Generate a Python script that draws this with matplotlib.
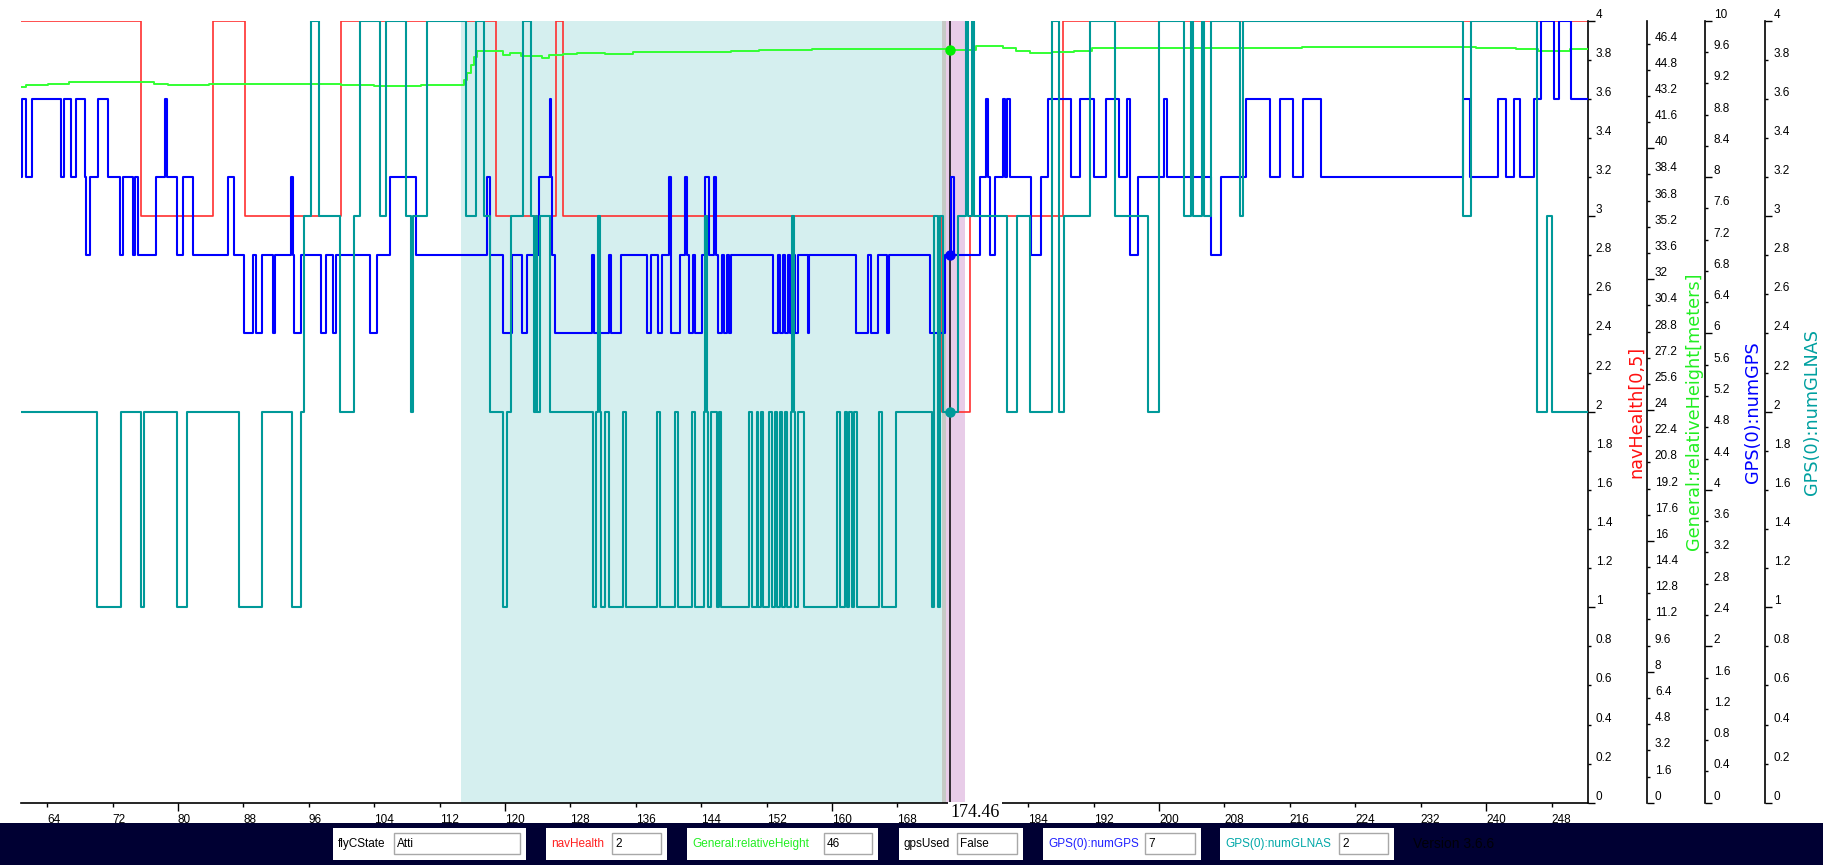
import matplotlib.pyplot as plt
from matplotlib.patches import Rectangle
from matplotlib.ticker import MultipleLocator, FormatStrFormatter, FuncFormatter

# time axis
t_start, t_end = 60.8, 252.4
cursor_t = 174.46

# navHealth (step series: time of change, value after change)
nav_t = [60.7, 75.5, 84.3, 88.24, 99.93, 118.9, 126.23, 127.09, 173.46, 176.85, 188.27]
nav_v = [4, 3, 4, 3, 4, 3, 4, 3, 2, 3, 4]

# General:relativeHeight [m]
hgt_t = [60.7, 61.43, 64.08, 66.73, 74.67, 77.12, 78.75, 83.84, 99.93, 104.0, 109.7,
         115.0, 115.4, 115.8, 116.2, 116.6, 119.8, 120.66, 121.94, 124.51, 125.37,
         127.09, 128.8, 132.23, 135.66, 143.37, 147.66, 151.09, 157.52, 163.95,
         170.38, 174.24, 177.63, 180.91, 182.54, 184.18, 186.9, 189.64, 191.82,
         206.55, 217.46, 238.74, 243.65, 246.37, 250.2]
hgt_v = [43.73, 43.87, 43.93, 44.07, 44.03, 43.93, 43.87, 43.93, 43.86, 43.79, 43.9,
         44.2, 44.6, 45.1, 45.6, 45.97, 45.7, 45.8, 45.64, 45.54, 45.7,
         45.75, 45.85, 45.77, 45.91, 45.87, 45.97, 46.01, 46.05, 46.09,
         46.08, 46.01, 46.27, 46.11, 45.97, 45.85, 45.91, 45.95, 46.11,
         46.15, 46.21, 46.11, 46.05, 45.97, 46.05]

# GPS(0):numGPS
gps_t = [60.7, 60.91, 61.43, 62.13, 65.71, 66.04, 66.93, 67.54, 68.64, 68.81,
         69.3, 70.19, 71.41, 72.96, 73.29, 74.47, 74.75, 75.08, 77.32, 78.46,
         78.62, 79.85, 80.66, 81.88, 86.08, 86.81, 88.03, 89.22, 89.54, 90.27,
         91.58, 91.86, 93.82, 94.1, 94.23, 95.04, 97.48, 98.1, 98.99, 99.32,
         103.47, 104.29, 105.92, 109.09, 117.85, 118.14, 119.8, 120.87, 122.07, 122.67,
         124.17, 125.46, 125.67, 125.8, 126.1, 130.6, 130.94, 132.66, 132.96, 134.24,
         137.37, 137.8, 138.66, 139.22, 140.03, 140.29, 141.45, 142.0, 142.3, 142.52,
         142.95, 143.25, 144.06, 144.4, 144.92, 145.6, 145.86, 146.03, 146.5, 146.8,
         147.1, 147.4, 147.66, 152.72, 153.36, 153.66, 154.0, 154.2, 154.6, 154.8,
         155.3, 155.5, 155.8, 157.0, 157.18, 162.88, 164.38, 164.81, 165.58, 166.73,
         166.95, 172.01, 173.81, 174.6, 174.9, 178.07, 178.89, 179.1, 179.27, 179.98,
         180.91, 181.2, 181.4, 181.73, 184.34, 185.54, 186.36, 189.25, 190.35, 191.98,
         193.46, 195.09, 196.07, 196.46, 197.44, 200.55, 200.93, 206.38, 207.53, 210.64,
         213.53, 214.84, 216.37, 217.62, 219.81, 237.21, 238.08, 241.46, 242.39, 243.37,
         244.19, 245.83, 246.76, 248.34, 248.94, 250.36]
gps_v = [8, 9, 8, 9, 8, 9, 8, 9, 8, 7,
         8, 9, 8, 7, 8, 7, 8, 7, 8, 9,
         8, 7, 8, 7, 8, 7, 6, 7, 6, 7,
         6, 7, 8, 7, 6, 7, 6, 7, 6, 7,
         6, 7, 8, 7, 8, 7, 6, 7, 6, 7,
         8, 9, 8, 7, 6, 7, 6, 7, 6, 7,
         6, 7, 6, 7, 8, 6, 7, 8, 7, 6,
         7, 6, 7, 8, 7, 8, 7, 6, 7, 6,
         7, 6, 7, 6, 7, 6, 7, 6, 7, 6,
         7, 6, 7, 6, 7, 6, 7, 6, 7, 6,
         7, 6, 7, 8, 7, 8, 9, 8, 7, 8,
         9, 8, 9, 8, 7, 8, 9, 8, 9, 8,
         9, 8, 9, 7, 8, 9, 8, 7, 8, 9,
         8, 9, 8, 9, 8, 9, 8, 9, 8, 9,
         8, 9, 10, 9, 10, 9]

# GPS(0):numGLNAS
gln_t = [60.7, 70.12, 73.05, 75.47, 75.84, 79.87, 81.11, 87.41, 90.27, 93.93,
         95.03, 95.4, 96.26, 97.2, 99.87, 101.48, 102.25, 104.69, 105.43, 107.87,
         108.5, 108.8, 110.44, 115.28, 116.42, 117.44, 118.18, 119.8, 120.3, 120.75,
         122.24, 123.23, 123.53, 123.75, 123.97, 124.34, 125.51, 130.78, 131.1, 131.37,
         131.66, 131.8, 132.25, 132.76, 134.45, 134.81, 138.62, 138.92, 140.82, 141.19,
         142.87, 143.24, 144.34, 144.5, 144.7, 144.8, 145.21, 145.95, 146.17, 146.39,
         149.83, 150.2, 150.78, 150.95, 151.3, 151.5, 152.25, 152.61, 152.98, 153.3,
         153.6, 153.9, 154.22, 154.5, 154.96, 155.08, 155.3, 155.5, 155.84, 156.57,
         160.6, 160.97, 161.55, 161.8, 162.1, 162.5, 162.7, 163.02, 165.73, 166.09,
         167.78, 172.18, 172.45, 172.9, 173.2, 173.54, 175.45, 176.4, 176.65, 177.1,
         177.4, 181.45, 182.65, 184.2, 186.9, 187.7, 188.4, 191.55, 194.55, 198.64,
         200.0, 203.0, 203.9, 204.1, 205.2, 205.5, 206.3, 209.9, 210.3, 237.2,
         238.1, 246.2, 247.5, 248.0]
gln_v = [2, 1, 2, 1, 2, 1, 2, 1, 2, 1,
         2, 3, 4, 3, 2, 3, 4, 3, 4, 3,
         2, 3, 4, 3, 4, 3, 2, 1, 2, 3,
         4, 3, 2, 3, 2, 3, 2, 1, 2, 3,
         2, 1, 2, 1, 2, 1, 2, 1, 2, 1,
         2, 1, 2, 3, 2, 1, 2, 1, 2, 1,
         2, 1, 2, 1, 2, 1, 2, 1, 2, 1,
         2, 1, 2, 1, 2, 3, 2, 1, 2, 1,
         2, 1, 2, 1, 2, 1, 2, 1, 2, 1,
         2, 1, 3, 1, 3, 2, 3, 4, 3, 4,
         3, 2, 3, 2, 4, 2, 3, 4, 3, 2,
         4, 3, 4, 3, 4, 3, 4, 3, 4, 3,
         4, 2, 3, 2]

c_red = '#ff3030'
c_green = '#33ff33'
c_blue = '#0000ff'
c_teal = '#009999'

W, H = 1823, 865
fig = plt.figure(figsize=(W / 100, H / 100), dpi=100)
ax = fig.add_axes([21 / W, 62.3 / H, 1566.5 / W, 782 / H])
ax_h = ax.twinx()
ax_g = ax.twinx()
ax_l = ax.twinx()
ax_h.spines['right'].set_position(('axes', 1.0377))
ax_g.spines['right'].set_position(('axes', 1.0753))
ax_l.spines['right'].set_position(('axes', 1.1136))


def ext(t, v):
    return list(t) + [t_end], list(v) + [v[-1]]


def style_right(a, lo, hi, major, minor):
    a.set_ylim(lo, hi)
    a.yaxis.tick_right()
    a.yaxis.set_major_locator(MultipleLocator(major))
    a.yaxis.set_minor_locator(MultipleLocator(minor))
    a.yaxis.set_major_formatter(FormatStrFormatter('%g'))
    a.yaxis.set_minor_formatter(FormatStrFormatter('%g'))
    a.tick_params(axis='y', which='major', direction='out', length=5, width=1,
                  labelsize=8.5, pad=1, left=False, right=True,
                  labelleft=False, labelright=True)
    a.tick_params(axis='y', which='minor', direction='out', length=2.5, width=1,
                  labelsize=8.5, pad=3.5, left=False, right=True,
                  labelleft=False, labelright=True)
    for s in ['top', 'left', 'bottom']:
        a.spines[s].set_visible(False)
    a.spines['right'].set_linewidth(1.2)
    for lab in a.get_yticklabels(which='both'):
        lab.set_fontfamily('Liberation Sans')
        lab.set_va('bottom')


# highlighted intervals and cursor
ax.axvspan(114.6, 173.45, color='#d5efef', lw=0, zorder=0)
ax.axvspan(173.45, 173.97, color='#c5cac5', lw=0, zorder=0)
ax.axvspan(173.97, 176.3, color='#e8cce8', lw=0, zorder=0)
ax.axvline(cursor_t, color='black', lw=1.1, zorder=1)

t, v = ext(nav_t, nav_v)
ax.step(t, v, where='post', color=c_red, lw=1.2, zorder=2)

t, v = ext(hgt_t, hgt_v)
ax_h.step(t, v, where='post', color=c_green, lw=1.4)
ax_h.plot([cursor_t], [46], 'o', color='#00ee00', ms=6.5)

t, v = ext(gps_t, gps_v)
ax_g.step(t, v, where='post', color=c_blue, lw=1.5)
ax_g.plot([cursor_t], [7], 'o', color=c_blue, ms=6.5)

t, v = ext(gln_t, gln_v)
ax_l.step(t, v, where='post', color=c_teal, lw=1.5)
ax_l.plot([cursor_t], [2], 'o', color=c_teal, ms=6.5)

style_right(ax, 0, 4, 1, 0.2)
style_right(ax_h, 0, 47.8, 8, 1.6)
style_right(ax_g, 0, 10, 2, 0.4)
style_right(ax_l, 0, 4, 1, 0.2)

# time axis
ax.spines['bottom'].set_visible(True)
ax.spines['bottom'].set_linewidth(1.2)
ax.xaxis.set_major_locator(MultipleLocator(40))
ax.xaxis.set_minor_locator(MultipleLocator(8))
hide_near_cursor = FuncFormatter(lambda x, p: '' if abs(x - cursor_t) < 4 else '%d' % x)
ax.xaxis.set_major_formatter(hide_near_cursor)
ax.xaxis.set_minor_formatter(hide_near_cursor)
ax.tick_params(axis='x', which='major', direction='out', length=6, width=1,
               labelsize=8.5, pad=2)
ax.tick_params(axis='x', which='minor', direction='out', length=3, width=1,
               labelsize=8.5, pad=5)
for a in [ax, ax_h, ax_g, ax_l]:
    a.set_xlim(t_start, t_end)
for lab in ax.get_xticklabels(which='both'):
    lab.set_fontfamily('Liberation Sans')
    lab.set_ha('left')

# axis titles
ycen = 1 - 411.7 / H
titles = [(1636, 'navHealth[0,5]', '#ff1010'),
          (1694, 'General:relativeHeight[meters]', '#22ee22'),
          (1753, 'GPS(0):numGPS', c_blue),
          (1812, 'GPS(0):numGLNAS', '#00a0a0')]
for xp, txt, col in titles:
    fig.text(xp / W, ycen, txt, color=col, rotation=90, ha='center', va='center',
             fontsize=12.7, family='DejaVu Sans')

# cursor time label
ax.text(cursor_t, -0.002, f'{cursor_t:.2f}', transform=ax.get_xaxis_transform(),
        ha='left', va='top', fontsize=13, family='Liberation Serif',
        bbox=dict(facecolor='white', edgecolor='none', pad=1.5), zorder=10,
        clip_on=False)

# bottom status bar
fig.patches.append(Rectangle((0, 0), 1, 42 / H, transform=fig.transFigure,
                             facecolor='#000033', edgecolor='none', zorder=0))
fields = [('flyCState', 'Atti', 'black', 333, 526, 394),
          ('navHealth', '2', '#ff2020', 546, 667, 612),
          ('General:relativeHeight', '46', '#22ee22', 687, 878, 824),
          ('gpsUsed', 'False', 'black', 899, 1023, 957),
          ('GPS(0):numGPS', '7', '#2020ff', 1043, 1201, 1145),
          ('GPS(0):numGLNAS', '2', '#00a8a8', 1220, 1394, 1339)]
for name, val, col, x0, x1, fx in fields:
    fig.patches.append(Rectangle((x0 / W, 5 / H), (x1 - x0) / W, 32 / H,
                                 transform=fig.transFigure, facecolor='white',
                                 edgecolor='none', zorder=1))
    fig.patches.append(Rectangle((fx / W, 11 / H), (x1 - 6 - fx) / W, 21 / H,
                                 transform=fig.transFigure, facecolor='white',
                                 edgecolor='#a8a8a8', lw=1, zorder=2))
    fig.text((x0 + 5) / W, 21 / H, name, color=col, fontsize=8.5,
             family='Liberation Sans', ha='left', va='center', zorder=3)
    fig.text((fx + 3) / W, 21 / H, val, color='black', fontsize=8.5,
             family='Liberation Sans', ha='left', va='center', zorder=3)
fig.text(1413 / W, 21 / H, 'Version 3.6.6', color='#000008', fontsize=10,
         family='Liberation Sans', ha='left', va='center')

fig.savefig('out.png', dpi=100)
